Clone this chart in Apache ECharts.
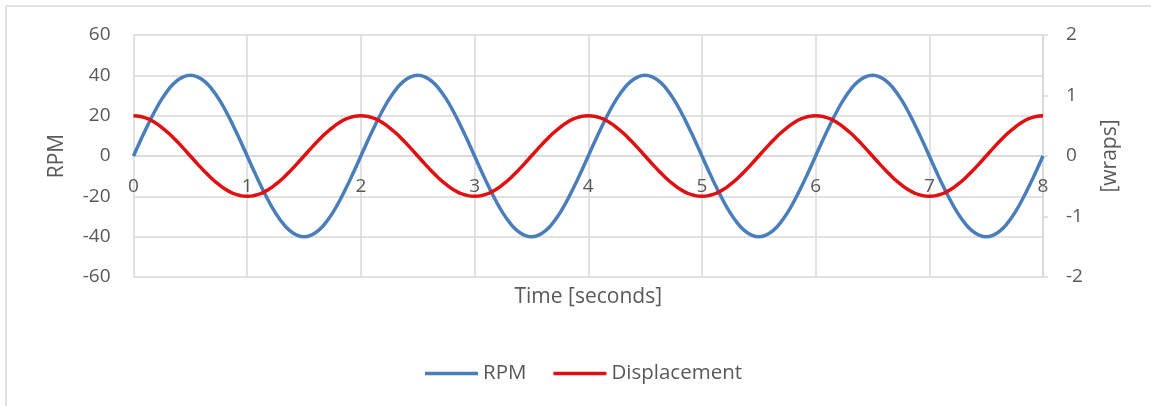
<!DOCTYPE html>
<html>
<head>
<meta charset="utf-8">
<script src="https://cdn.jsdelivr.net/npm/echarts@6/dist/echarts.min.js"></script>
<style>
  html, body { margin: 0; padding: 0; background: #fff; }
  #chart { width: 1151px; height: 406px; }
</style>
</head>
<body>
<div id="chart"></div>
<script>
// Sample times, seconds
const time = [
  0, 0.0625, 0.125, 0.1875, 0.25, 0.3125, 0.375, 0.4375, 0.5, 0.5625, 0.625, 0.6875, 0.75, 0.8125, 0.875, 0.9375,
  1, 1.0625, 1.125, 1.1875, 1.25, 1.3125, 1.375, 1.4375, 1.5, 1.5625, 1.625, 1.6875, 1.75, 1.8125, 1.875, 1.9375,
  2, 2.0625, 2.125, 2.1875, 2.25, 2.3125, 2.375, 2.4375, 2.5, 2.5625, 2.625, 2.6875, 2.75, 2.8125, 2.875, 2.9375,
  3, 3.0625, 3.125, 3.1875, 3.25, 3.3125, 3.375, 3.4375, 3.5, 3.5625, 3.625, 3.6875, 3.75, 3.8125, 3.875, 3.9375,
  4, 4.0625, 4.125, 4.1875, 4.25, 4.3125, 4.375, 4.4375, 4.5, 4.5625, 4.625, 4.6875, 4.75, 4.8125, 4.875, 4.9375,
  5, 5.0625, 5.125, 5.1875, 5.25, 5.3125, 5.375, 5.4375, 5.5, 5.5625, 5.625, 5.6875, 5.75, 5.8125, 5.875, 5.9375,
  6, 6.0625, 6.125, 6.1875, 6.25, 6.3125, 6.375, 6.4375, 6.5, 6.5625, 6.625, 6.6875, 6.75, 6.8125, 6.875, 6.9375,
  7, 7.0625, 7.125, 7.1875, 7.25, 7.3125, 7.375, 7.4375, 7.5, 7.5625, 7.625, 7.6875, 7.75, 7.8125, 7.875, 7.9375,
  8
];

// Rotational speed, RPM
const rpm = [
  0, 7.8, 15.3, 22.2, 28.3, 33.3, 37.0, 39.2, 40.0, 39.2, 37.0, 33.3, 28.3, 22.2, 15.3, 7.8,
  0, -7.8, -15.3, -22.2, -28.3, -33.3, -37.0, -39.2, -40.0, -39.2, -37.0, -33.3, -28.3, -22.2, -15.3, -7.8,
  0, 7.8, 15.3, 22.2, 28.3, 33.3, 37.0, 39.2, 40.0, 39.2, 37.0, 33.3, 28.3, 22.2, 15.3, 7.8,
  0, -7.8, -15.3, -22.2, -28.3, -33.3, -37.0, -39.2, -40.0, -39.2, -37.0, -33.3, -28.3, -22.2, -15.3, -7.8,
  0, 7.8, 15.3, 22.2, 28.3, 33.3, 37.0, 39.2, 40.0, 39.2, 37.0, 33.3, 28.3, 22.2, 15.3, 7.8,
  0, -7.8, -15.3, -22.2, -28.3, -33.3, -37.0, -39.2, -40.0, -39.2, -37.0, -33.3, -28.3, -22.2, -15.3, -7.8,
  0, 7.8, 15.3, 22.2, 28.3, 33.3, 37.0, 39.2, 40.0, 39.2, 37.0, 33.3, 28.3, 22.2, 15.3, 7.8,
  0, -7.8, -15.3, -22.2, -28.3, -33.3, -37.0, -39.2, -40.0, -39.2, -37.0, -33.3, -28.3, -22.2, -15.3, -7.8,
  0
];

// Displacement, wraps
const displacement = [
  0.667, 0.654, 0.616, 0.555, 0.471, 0.371, 0.255, 0.130, 0, -0.130, -0.255, -0.371, -0.471, -0.555, -0.616, -0.654,
  -0.667, -0.654, -0.616, -0.555, -0.471, -0.371, -0.255, -0.130, 0, 0.130, 0.255, 0.371, 0.471, 0.555, 0.616, 0.654,
  0.667, 0.654, 0.616, 0.555, 0.471, 0.371, 0.255, 0.130, 0, -0.130, -0.255, -0.371, -0.471, -0.555, -0.616, -0.654,
  -0.667, -0.654, -0.616, -0.555, -0.471, -0.371, -0.255, -0.130, 0, 0.130, 0.255, 0.371, 0.471, 0.555, 0.616, 0.654,
  0.667, 0.654, 0.616, 0.555, 0.471, 0.371, 0.255, 0.130, 0, -0.130, -0.255, -0.371, -0.471, -0.555, -0.616, -0.654,
  -0.667, -0.654, -0.616, -0.555, -0.471, -0.371, -0.255, -0.130, 0, 0.130, 0.255, 0.371, 0.471, 0.555, 0.616, 0.654,
  0.667, 0.654, 0.616, 0.555, 0.471, 0.371, 0.255, 0.130, 0, -0.130, -0.255, -0.371, -0.471, -0.555, -0.616, -0.654,
  -0.667, -0.654, -0.616, -0.555, -0.471, -0.371, -0.255, -0.130, 0, 0.130, 0.255, 0.371, 0.471, 0.555, 0.616, 0.654,
  0.667
];

const seriesNames = ['RPM', 'Displacement'];
const axisNames = { x: 'Time [seconds]', left: 'RPM', right: '[wraps]' };

const FONT = '"Open Sans", "Noto Sans", sans-serif';
const TEXT = '#595959';
const GRID = '#d9d9d9';

const PLOT_TOP = 35;
const PLOT_BOTTOM = 129;
const PLOT_HEIGHT = 406 - PLOT_TOP - PLOT_BOTTOM;

const pairs = (ys) => time.map((t, i) => [t, ys[i]]);

const chart = echarts.init(document.getElementById('chart'), null, { renderer: 'canvas' });

chart.setOption({
  backgroundColor: '#ffffff',
  animation: false,
  textStyle: { fontFamily: FONT, color: TEXT },
  graphic: [
    { type: 'line', shape: { x1: 6, y1: 6, x2: 1151, y2: 6 }, style: { stroke: '#d9d9d9', lineWidth: 1.5 } },
    { type: 'line', shape: { x1: 6, y1: 6, x2: 6, y2: 406 }, style: { stroke: '#d9d9d9', lineWidth: 1.5 } }
  ],
  grid: { left: 133.5, right: 108, top: PLOT_TOP, bottom: PLOT_BOTTOM },
  legend: {
    left: 420,
    top: 358,
    itemWidth: 53,
    itemHeight: 3.5,
    itemGap: 27,
    icon: 'rect',
    textStyle: { fontFamily: FONT, fontSize: 20.5, color: TEXT },
    data: seriesNames
  },
  xAxis: [
    {
      // time axis drawn across the zero line of the RPM scale
      type: 'value',
      min: 0, max: 8, interval: 1,
      position: 'bottom',
      offset: -PLOT_HEIGHT / 2,
      axisLine: { show: true, onZero: false, lineStyle: { color: GRID, width: 1.5 } },
      axisTick: { show: false },
      axisLabel: { color: TEXT, fontSize: 19, fontFamily: FONT, margin: 21 },
      splitLine: { show: true, lineStyle: { color: GRID, width: 1.5 } }
    },
    {
      // carries the axis title under the plot
      type: 'value',
      position: 'bottom',
      min: 0, max: 8,
      name: axisNames.x,
      nameLocation: 'middle',
      nameGap: 10,
      nameTextStyle: { fontSize: 21, color: TEXT, fontFamily: FONT, verticalAlign: 'top' },
      axisLine: { show: false, onZero: false },
      axisTick: { show: false },
      axisLabel: { show: false },
      splitLine: { show: false }
    }
  ],
  yAxis: [
    {
      type: 'value',
      position: 'left',
      min: -60, max: 60, interval: 20,
      name: axisNames.left,
      nameLocation: 'middle',
      nameRotate: 90,
      nameGap: 66,
      nameTextStyle: { fontSize: 21, color: TEXT, fontFamily: FONT },
      axisLine: { show: false, onZero: false },
      axisTick: { show: false },
      axisLabel: { color: TEXT, fontSize: 19, fontFamily: FONT, margin: 23 },
      splitLine: { show: true, lineStyle: { color: GRID, width: 1.5 } }
    },
    {
      type: 'value',
      position: 'right',
      min: -2, max: 2, interval: 1,
      name: axisNames.right,
      nameLocation: 'middle',
      nameRotate: 90,
      nameGap: 57,
      nameTextStyle: { fontSize: 21, color: TEXT, fontFamily: FONT },
      axisLine: { show: true, onZero: false, lineStyle: { color: GRID, width: 1.5 } },
      axisTick: { show: true, length: 5, lineStyle: { color: GRID, width: 1.5 } },
      axisLabel: { color: TEXT, fontSize: 19, fontFamily: FONT, margin: 23 },
      splitLine: { show: false }
    }
  ],
  series: [
    {
      name: seriesNames[0],
      type: 'line',
      xAxisIndex: 0,
      yAxisIndex: 0,
      data: pairs(rpm),
      smooth: true,
      symbol: 'none',
      color: '#4A7EBB',
      lineStyle: { color: '#4A7EBB', width: 3.5 },
      z: 3
    },
    {
      name: seriesNames[1],
      type: 'line',
      xAxisIndex: 0,
      yAxisIndex: 1,
      data: pairs(displacement),
      smooth: true,
      symbol: 'none',
      color: '#E01010',
      lineStyle: { color: '#E01010', width: 3.5 },
      z: 4
    }
  ]
});
</script>
</body>
</html>
